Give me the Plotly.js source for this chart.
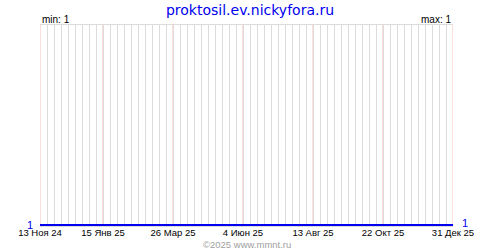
<!DOCTYPE html>
<html>
<head>
<meta charset="utf-8">
<script src="https://cdn.plot.ly/plotly-3.0.1.min.js"></script>
<style>html,body{margin:0;padding:0;background:#fff;}#chart{width:500px;height:250px;}</style>
</head>
<body>
<div id="chart"></div>
<script>
const dates = ['2024-11-13', '2025-01-15', '2025-03-26', '2025-06-04', '2025-08-13', '2025-10-22', '2025-12-31'];
const values = [1, 1, 1, 1, 1, 1, 1];
const tickDates = ['2024-11-13', '2025-01-15', '2025-03-26', '2025-06-04', '2025-08-13', '2025-10-22', '2025-12-31'];
const tickLabels = ['13 Ноя 24', '15 Янв 25', '26 Мар 25', '4 Июн 25', '13 Авг 25', '22 Окт 25', '31 Дек 25'];
const titleText = 'proktosil.ev.nickyfora.ru';
const minValue = 1;
const maxValue = 1;
const lastValue = 1;

const font = 'Liberation Sans, Arial, sans-serif';
const titleFont = 'DejaVu Sans, Verdana, sans-serif';
const blue = '#0000ee';

const trace = {
  x: dates, y: values, type: 'scatter', mode: 'lines',
  line: {color: blue, width: 2}, hoverinfo: 'skip', showlegend: false
};

const redLines = tickDates.map(d => ({
  type: 'line', xref: 'x', yref: 'paper', x0: d, x1: d, y0: 0, y1: 1,
  line: {color: '#ffbcbc', width: 1}, layer: 'between'
}));

const layout = {
  width: 500, height: 250,
  margin: {l: 40, r: 47, t: 25, b: 24, pad: 0},
  paper_bgcolor: '#ffffff', plot_bgcolor: '#ffffff',
  showlegend: false,
  font: {family: font, size: 10, color: '#000'},
  title: {
    text: titleText, x: 0.5, xref: 'container', xanchor: 'center',
    y: 1, yref: 'container', yanchor: 'top', pad: {t: 5},
    font: {family: titleFont, size: 14, color: blue}
  },
  xaxis: {
    type: 'date',
    range: [tickDates[0], tickDates[tickDates.length - 1]],
    tickmode: 'array', tickvals: tickDates, ticktext: tickLabels,
    ticks: '', showgrid: false,
    minor: {tick0: '2024-11-13', dtick: 7 * 86400000, showgrid: true, gridcolor: '#dcdcdc', gridwidth: 1, ticks: ''},
    showline: true, mirror: 'all', linecolor: '#dcdcdc', linewidth: 1,
    zeroline: false, tickfont: {family: font, size: 9.5, color: '#000'},
    ticklabelstandoff: -2,
    tickangle: 0, fixedrange: true
  },
  yaxis: {
    range: [0.995, 2], tickmode: 'array', tickvals: [lastValue], ticktext: [String(lastValue)],
    showgrid: false, zeroline: false, showline: false, ticks: '',
    ticklabelstandoff: 6,
    tickfont: {family: font, size: 11, color: blue}, fixedrange: true
  },
  shapes: redLines,
  annotations: [
    {text: 'min: ' + minValue, xref: 'paper', yref: 'paper', x: 0, y: 1, xanchor: 'left', yanchor: 'bottom',
     showarrow: false, font: {family: font, size: 10, color: '#000'}, yshift: -2},
    {text: 'max: ' + maxValue, xref: 'paper', yref: 'paper', x: 1, y: 1, xanchor: 'right', yanchor: 'bottom',
     showarrow: false, font: {family: font, size: 10, color: '#000'}, yshift: -2},
    {text: String(lastValue), xref: 'paper', yref: 'y', x: 1, y: lastValue, xanchor: 'left', yanchor: 'middle',
     xshift: 7, yshift: 2, showarrow: false, font: {family: font, size: 11, color: blue}},
    {text: '©2025 www.mmnt.ru', xref: 'paper', yref: 'paper', x: 0.5, y: 0, yshift: -18, xanchor: 'center', yanchor: 'middle',
     showarrow: false, font: {family: font, size: 9.5, color: '#a0a0a0'}}
  ]
};

Plotly.newPlot('chart', [trace], layout, {staticPlot: true, displayModeBar: false});
</script>
</body>
</html>
